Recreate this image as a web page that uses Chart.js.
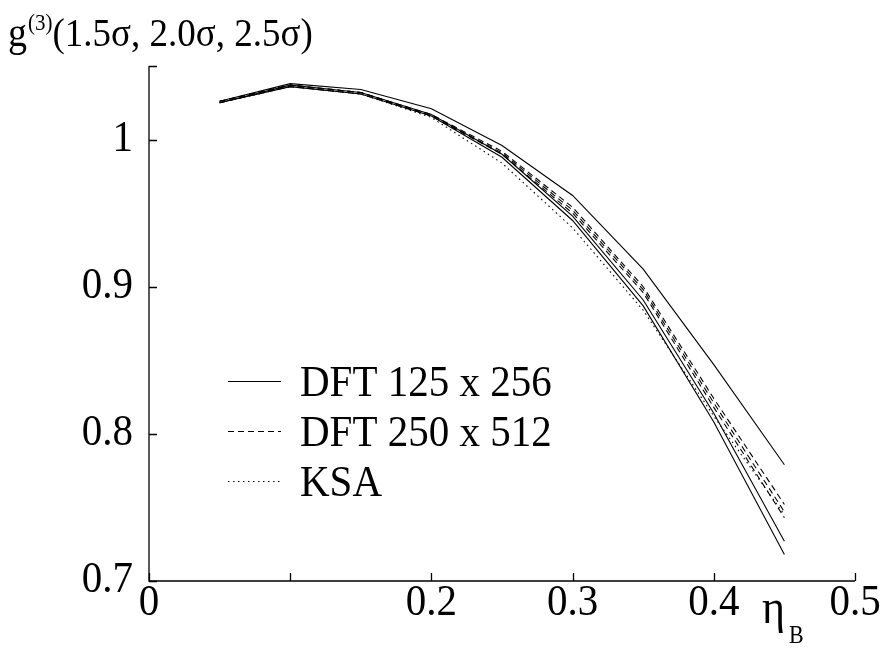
<!DOCTYPE html>
<html>
<head>
<meta charset="utf-8">
<script src="https://cdn.jsdelivr.net/npm/chart.js@4"></script>
<style>
  html, body { margin: 0; padding: 0; background: #fff; }
  #wrap { width: 882px; height: 649px; position: relative; }
</style>
</head>
<body>
<div id="wrap"><canvas id="myChart"></canvas></div>
<script>
// packing fraction on the x axis
var etaB = [0.05, 0.10, 0.15, 0.20, 0.25, 0.30, 0.35, 0.40, 0.45];

// solid curves (DFT 125 x 256)
var dftSmallA = [1.026, 1.038, 1.034, 1.021, 0.996, 0.962, 0.912, 0.847, 0.779];
var dftSmallB = [1.025, 1.037, 1.032, 1.017, 0.990, 0.948, 0.891, 0.814, 0.727];
var dftSmallC = [1.025, 1.036, 1.031, 1.016, 0.988, 0.945, 0.887, 0.808, 0.718];

// dashed curves (DFT 250 x 512)
var dftLargeA = [1.026, 1.037, 1.032, 1.017, 0.992, 0.954, 0.900, 0.824, 0.752];
var dftLargeB = [1.026, 1.037, 1.032, 1.016, 0.991, 0.952, 0.898, 0.821, 0.747];
var dftLargeC = [1.025, 1.036, 1.031, 1.016, 0.990, 0.950, 0.896, 0.818, 0.743];

// dotted curve (KSA)
var ksa = [1.025, 1.036, 1.031, 1.015, 0.984, 0.940, 0.884, 0.812, 0.745];

var legendLabels = ['DFT 125 x 256', 'DFT 250 x 512', 'KSA'];
var xTicks = [0, 0.1, 0.2, 0.3, 0.4, 0.5];
var xTickLabels = ['0', '', '0.2', '0.3', '0.4', '0.5'];
var yTicks = [0.7, 0.8, 0.9, 1.0, 1.05];
var yTickLabels = ['0.7', '0.8', '0.9', '1', ''];

var SERIF = '"Liberation Serif", "DejaVu Serif", serif';
var dashes = [[], [6, 4], [1.5, 3.5]];

function pts(ys) {
  return etaB.map(function (x, i) { return { x: x, y: ys[i] }; });
}
function line(ys, style, label) {
  return {
    label: label,
    data: pts(ys),
    borderColor: '#000',
    borderWidth: 1.1,
    borderDash: dashes[style],
    pointRadius: 0,
    fill: false,
    tension: 0
  };
}

// text slightly stretched vertically, like the original typesetting
function txt(ctx, s, x, y, size, align) {
  ctx.save();
  ctx.font = size + 'px ' + SERIF;
  ctx.textAlign = align || 'left';
  ctx.textBaseline = 'alphabetic';
  ctx.translate(x, y);
  ctx.scale(1, 1.1);
  ctx.fillText(s, 0, 0);
  var w = ctx.measureText(s).width;
  ctx.restore();
  return w;
}

// axes, inward tick marks, labels, title and legend
var decor = {
  id: 'decor',
  afterDraw: function (chart) {
    var ctx = chart.ctx;
    var xs = chart.scales.x, ys = chart.scales.y;
    var a = chart.chartArea;
    ctx.save();
    ctx.strokeStyle = '#000';
    ctx.fillStyle = '#000';
    ctx.lineWidth = 1.3;
    ctx.beginPath();
    ctx.moveTo(a.left, a.top);
    ctx.lineTo(a.left, a.bottom);
    ctx.lineTo(a.right, a.bottom);
    ctx.stroke();
    ctx.beginPath();
    xTicks.forEach(function (v) {
      var px = Math.round(xs.getPixelForValue(v)) + 0.5;
      ctx.moveTo(px, a.bottom);
      ctx.lineTo(px, a.bottom - 8);
    });
    yTicks.forEach(function (v) {
      var py = Math.round(ys.getPixelForValue(v)) + 0.5;
      ctx.moveTo(a.left, py);
      ctx.lineTo(a.left + 8, py);
    });
    ctx.stroke();

    xTicks.forEach(function (v, i) {
      txt(ctx, xTickLabels[i], xs.getPixelForValue(v), a.bottom + 34, 41, 'center');
    });
    yTicks.forEach(function (v, i) {
      txt(ctx, yTickLabels[i], a.left - 16, ys.getPixelForValue(v) + 11, 41, 'right');
    });

    // title g^(3)(1.5σ, 2.0σ, 2.5σ)
    var gx = 8 + txt(ctx, 'g', 8, 46, 38);
    var sx = gx + 1 + txt(ctx, '(3)', gx + 1, 30, 21);
    txt(ctx, '(1.5\u03c3, 2.0\u03c3, 2.5\u03c3)', sx, 46, 37);

    // x axis label η_B
    txt(ctx, '\u03b7', 762, 623, 44);
    txt(ctx, 'B', 789, 643, 22);

    // legend
    legendLabels.forEach(function (lab, i) {
      var yy = 381 + i * 50;
      ctx.lineWidth = 1.1;
      ctx.setLineDash(dashes[i]);
      ctx.beginPath();
      ctx.moveTo(228, yy + 0.5);
      ctx.lineTo(281, yy + 0.5);
      ctx.stroke();
      ctx.setLineDash([]);
      txt(ctx, lab, 300, yy + 15, 41);
    });
    ctx.restore();
  }
};

new Chart('myChart', {
  type: 'line',
  data: {
    datasets: [
      line(dftSmallA, 0, legendLabels[0]),
      line(dftSmallB, 0, legendLabels[0]),
      line(dftSmallC, 0, legendLabels[0]),
      line(dftLargeA, 1, legendLabels[1]),
      line(dftLargeB, 1, legendLabels[1]),
      line(dftLargeC, 1, legendLabels[1]),
      line(ksa, 2, legendLabels[2])
    ]
  },
  options: {
    responsive: true,
    maintainAspectRatio: false,
    animation: false,
    layout: { padding: { top: 66, right: 27, left: 0, bottom: 0 } },
    plugins: { legend: { display: false }, tooltip: { enabled: false } },
    scales: {
      x: {
        type: 'linear',
        min: 0, max: 0.5,
        afterBuildTicks: function (s) { s.ticks = xTicks.map(function (v) { return { value: v }; }); },
        afterFit: function (s) { s.height = 68; },
        grid: { display: false },
        border: { display: false },
        ticks: { display: false }
      },
      y: {
        type: 'linear',
        min: 0.7, max: 1.05,
        afterBuildTicks: function (s) { s.ticks = yTicks.map(function (v) { return { value: v }; }); },
        afterFit: function (s) { s.width = 149; },
        grid: { display: false },
        border: { display: false },
        ticks: { display: false }
      }
    }
  },
  plugins: [decor]
});
</script>
</body>
</html>
